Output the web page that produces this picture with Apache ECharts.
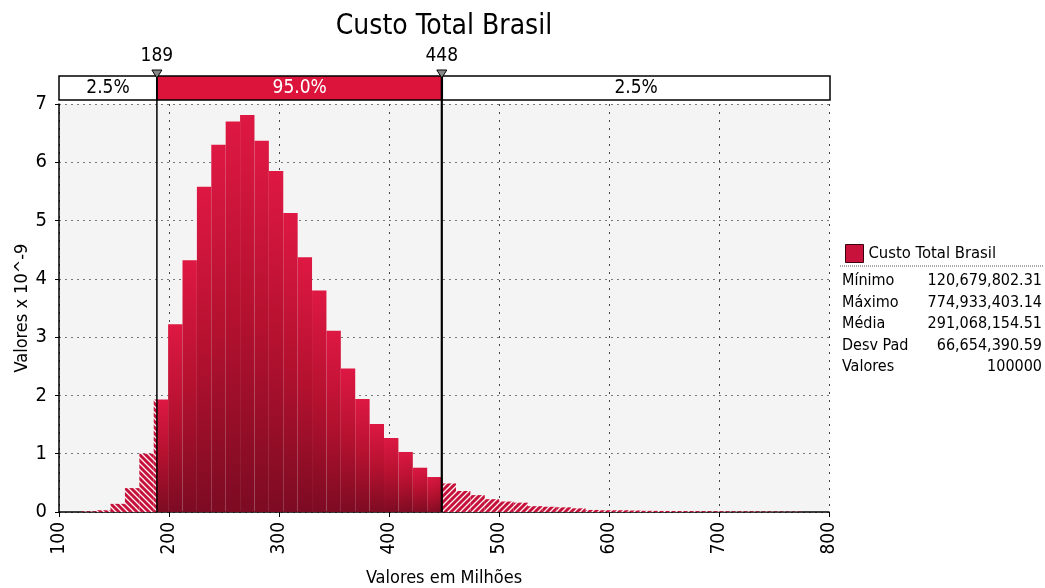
<!DOCTYPE html>
<html>
<head>
<meta charset="utf-8">
<script src="https://cdn.jsdelivr.net/npm/echarts@6/dist/echarts.min.js"></script>
<style>
  html, body { margin: 0; padding: 0; background: #fff; }
  #chart { width: 1045px; height: 588px; }
</style>
</head>
<body>
<div id="chart"></div>
<script>
// dados (valores em milhões, densidade x 10^-9)
const statMin = 120.67980231
const statMax = 774.93340314
const density = [
  0.01, 0.03, 0.14, 0.41, 1.00, 1.93, 3.22, 4.32, 5.58, 6.30,
  6.70, 6.81, 6.37, 5.85, 5.13, 4.37, 3.80, 3.11, 2.46, 1.94,
  1.51, 1.27, 1.03, 0.76, 0.60, 0.49, 0.36, 0.29, 0.22, 0.18,
  0.16, 0.10, 0.09, 0.08, 0.063, 0.035, 0.03, 0.03, 0.025, 0.02,
  0.018, 0.016, 0.015, 0.013, 0.012, 0.01, 0.01, 0.008, 0.006, 0.005
]
const cutValues = [189, 448]
const cutLabels = ['189', '448']
const bandEdges = [100, 189, 448, 800]
const bandLabels = ['2.5%', '95.0%', '2.5%']
const statNames = ['Mínimo', 'Máximo', 'Média', 'Desv Pad', 'Valores']
const statTexts = ['120,679,802.31', '774,933,403.14', '291,068,154.51', '66,654,390.59', '100000']

const FONT = '"DejaVu Sans Condensed", "DejaVu Sans", sans-serif'

const binWidth = (statMax - statMin) / density.length
const binData = density.map((v, i) => [statMin + i * binWidth, statMin + (i + 1) * binWidth, v])
const bandData = bandLabels.map((t, i) => [bandEdges[i], bandEdges[i + 1], i])

function makeHatch(dir) {
  const c = document.createElement('canvas')
  c.width = 6
  c.height = 6
  const g = c.getContext('2d')
  g.fillStyle = '#c51039'
  g.fillRect(0, 0, 6, 6)
  g.strokeStyle = 'rgba(255,255,255,0.95)'
  g.lineWidth = 1.3
  g.beginPath()
  if (dir === '/') {
    g.moveTo(-1, 7); g.lineTo(7, -1)
    g.moveTo(-1, 1); g.lineTo(1, -1)
    g.moveTo(5, 7); g.lineTo(7, 5)
  } else {
    g.moveTo(-1, -1); g.lineTo(7, 7)
    g.moveTo(-1, 5); g.lineTo(1, 7)
    g.moveTo(5, -1); g.lineTo(7, 1)
  }
  g.stroke()
  return { image: c, repeat: 'repeat' }
}
const hatchLo = makeHatch('\\')
const hatchHi = makeHatch('/')
const solidFill = new echarts.graphic.LinearGradient(0, 0, 1, 1, [
  { offset: 0, color: '#de1843' },
  { offset: 0.5, color: '#b4112f' },
  { offset: 1, color: '#7c0b22' }
])

const chart = echarts.init(document.getElementById('chart'), null, { renderer: 'canvas' })

chart.setOption({
  backgroundColor: '#fff',
  textStyle: { fontFamily: FONT },
  title: {
    text: 'Custo Total Brasil',
    left: 439,
    top: 8,
    textAlign: 'center',
    textStyle: { fontFamily: FONT, fontSize: 28, fontWeight: 'normal', color: '#000' }
  },
  legend: {
    left: 840,
    top: 239,
    itemWidth: 18,
    itemHeight: 18,
    itemGap: 6,
    icon: 'rect',
    itemStyle: { borderColor: '#3a0010', borderWidth: 1 },
    textStyle: { fontFamily: FONT, fontSize: 16.5, color: '#000' },
    data: ['Custo Total Brasil']
  },
  grid: [
    { left: 59, right: 216, top: 104, bottom: 76, show: true, backgroundColor: '#f4f4f4', borderWidth: 0, containLabel: false, outerBoundsMode: 'none' },
    { left: 59, right: 215, top: 76, height: 24, containLabel: false, outerBoundsMode: 'none' }
  ],
  xAxis: [
    {
      type: 'value', gridIndex: 0, min: 100, max: 800, interval: 100,
      name: 'Valores em Milhões', nameLocation: 'middle', nameGap: 57,
      nameTextStyle: { fontFamily: FONT, fontSize: 18, color: '#000' },
      axisLine: { lineStyle: { color: '#000', width: 1.5 } },
      axisTick: { show: true, length: 5, lineStyle: { color: '#000' } },
      axisLabel: { rotate: 90, margin: 10, fontFamily: FONT, fontSize: 19, color: '#000' },
      splitLine: { show: true, lineStyle: { color: '#444', type: [2, 6], width: 1 } }
    },
    {
      type: 'value', gridIndex: 1, min: 100, max: 800,
      show: false
    }
  ],
  yAxis: [
    {
      type: 'value', gridIndex: 0, min: 0, max: 7, interval: 1,
      name: 'Valores x 10^-9', nameLocation: 'middle', nameGap: 28, nameMoveOverlap: false,
      nameTextStyle: { fontFamily: FONT, fontSize: 18, color: '#000' },
      axisLine: { show: true, lineStyle: { color: '#000', width: 1.5 } },
      axisTick: { show: true, length: 4, lineStyle: { color: '#000' } },
      axisLabel: { margin: 12, fontFamily: FONT, fontSize: 20, color: '#000' },
      splitLine: { show: true, lineStyle: { color: '#777', type: [2, 4], width: 1 } }
    },
    { type: 'value', gridIndex: 1, min: 0, max: 1, show: false }
  ],
  series: [
    {
      name: 'Custo Total Brasil',
      type: 'custom',
      xAxisIndex: 0,
      yAxisIndex: 0,
      itemStyle: { color: '#c8123c' },
      renderItem: function (params, api) {
        const x0 = api.value(0), x1 = api.value(1), h = api.value(2)
        const segs = [
          [x0, Math.min(x1, cutValues[0]), hatchLo],
          [Math.max(x0, cutValues[0]), Math.min(x1, cutValues[1]), solidFill],
          [Math.max(x0, cutValues[1]), x1, hatchHi]
        ]
        const children = []
        segs.forEach(function (s) {
          if (s[1] <= s[0]) return
          const p0 = api.coord([s[0], h])
          const p1 = api.coord([s[1], 0])
          children.push({
            type: 'rect',
            shape: { x: p0[0], y: p0[1], width: p1[0] - p0[0], height: p1[1] - p0[1] },
            style: { fill: s[2] }
          })
        })
        return { type: 'group', children: children }
      },
      data: binData,
      z: 3
    },
    {
      name: 'faixa',
      type: 'custom',
      xAxisIndex: 1,
      yAxisIndex: 1,
      renderItem: function (params, api) {
        const i = api.value(2)
        const p0 = api.coord([api.value(0), 1])
        const p1 = api.coord([api.value(1), 0])
        const mid = i === 1
        return {
          type: 'rect',
          shape: { x: p0[0], y: p0[1], width: p1[0] - p0[0], height: p1[1] - p0[1] },
          style: {
            fill: mid ? '#dc143c' : '#fff',
            stroke: '#000',
            lineWidth: 1.5,
            text: bandLabels[i],
            textFill: mid ? '#fff' : '#000',
            fontSize: 19,
            fontFamily: FONT
          }
        }
      },
      data: bandData,
      silent: true,
      z: 4
    },
    {
      name: 'cortes',
      type: 'custom',
      xAxisIndex: 0,
      yAxisIndex: 0,
      clip: false,
      renderItem: function (params, api) {
        const i = params.dataIndex
        const pb = api.coord([api.value(0), 0])
        const pt = api.coord([api.value(0), 7])
        const topY = pt[1] - 34
        return {
          type: 'group',
          children: [
            {
              type: 'line',
              shape: { x1: pb[0], y1: pb[1], x2: pt[0], y2: topY },
              style: { stroke: '#000', lineWidth: i === 0 ? 1.5 : 2.2 },
              z2: 10
            },
            {
              type: 'polygon',
              shape: { points: [[pt[0] - 5, topY], [pt[0] + 5, topY], [pt[0], topY + 8]] },
              style: { fill: '#888', stroke: '#000', lineWidth: 1 },
              z2: 11
            },
            {
              type: 'text',
              x: pt[0],
              y: topY - 4,
              style: {
                text: cutLabels[i],
                fill: '#000',
                fontSize: 19,
                fontFamily: FONT,
                align: 'center',
                verticalAlign: 'bottom'
              },
              z2: 11
            }
          ]
        }
      },
      data: cutValues.map(v => [v]),
      silent: true,
      z: 6
    }
  ],
  graphic: [
    {
      type: 'line',
      shape: { x1: 840, y1: 266, x2: 1043, y2: 266 },
      style: { stroke: '#555', lineWidth: 1, lineDash: [1, 1] }
    }
  ].concat(statNames.map((n, i) => ({
    type: 'text',
    left: 842,
    top: 273 + i * 21.5,
    style: { text: n, fill: '#000', fontSize: 16, fontFamily: FONT }
  }))).concat(statTexts.map((t, i) => ({
    type: 'text',
    right: 3,
    top: 273 + i * 21.5,
    style: { text: t, fill: '#000', fontSize: 16, fontFamily: FONT }
  })))
})
</script>
</body>
</html>
